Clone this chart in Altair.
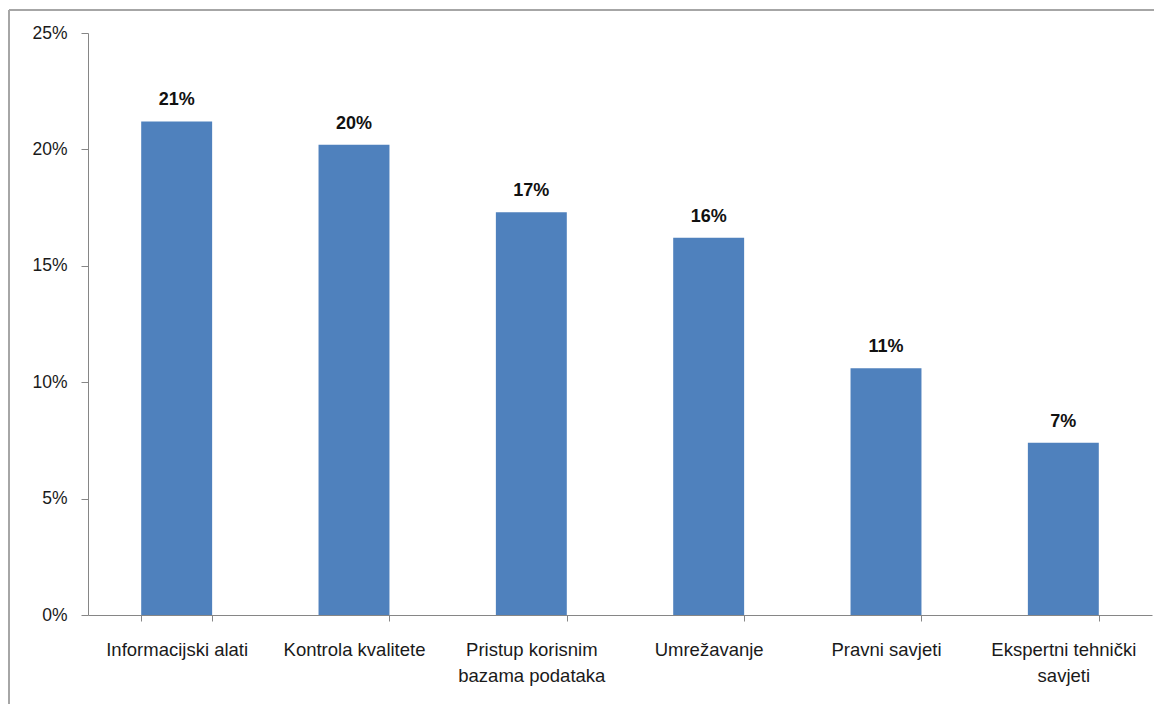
import altair as alt
import pandas as pd

categories = ["Informacijski alati", "Kontrola kvalitete", "Pristup korisnim bazama podataka",
              "Umrežavanje", "Pravni savjeti", "Ekspertni tehnički savjeti"]
values = [0.212, 0.202, 0.173, 0.162, 0.106, 0.074]
value_labels = ["21%", "20%", "17%", "16%", "11%", "7%"]
wrapped = {
    "Pristup korisnim bazama podataka": ["Pristup korisnim", "bazama podataka"],
    "Ekspertni tehnički savjeti": ["Ekspertni tehnički", "savjeti"],
}

df = pd.DataFrame({"cat": categories, "val": values, "lab": value_labels})

label_expr = " : ".join(
    [f"datum.label == '{k}' ? {v!r}" for k, v in wrapped.items()] + ["datum.label"]
)

FONT = "Liberation Sans"

x = alt.X("cat:N", sort=categories, title=None,
          scale=alt.Scale(paddingInner=0.6, paddingOuter=0.3),
          axis=alt.Axis(labelAngle=0, tickBand="extent", tickSize=6, domainColor="#868686",
                        tickColor="#868686", labelFont=FONT, labelFontSize=18.5,
                        labelColor="#1a1a1a", labelPadding=19, labelLineHeight=26,
                        labelExpr=label_expr, labelBaseline="top", grid=False))
y = alt.Y("val:Q", title=None,
          scale=alt.Scale(domain=[0, 0.25]),
          axis=alt.Axis(format=".0%", values=[0, 0.05, 0.1, 0.15, 0.2, 0.25], tickSize=7,
                        domainColor="#868686", tickColor="#868686", labelFont=FONT,
                        labelFontSize=17.5, labelColor="#1a1a1a", labelPadding=14, grid=False))

bars = alt.Chart(df).mark_bar(color="#4F81BD").encode(x=x, y=y)
texts = alt.Chart(df).mark_text(font=FONT, fontSize=18, fontWeight="bold", baseline="bottom",
                                dy=-12, color="#111111").encode(x=x, y=y, text="lab:N")

frame_top = alt.Chart(df).mark_rule(color="#a6a6a6", strokeWidth=2).encode(
    x=alt.value(-79), x2=alt.value(1100), y=alt.value(-23))
frame_left = alt.Chart(df).mark_rule(color="#a6a6a6", strokeWidth=2).encode(
    x=alt.value(-79), y=alt.value(-23), y2=alt.value(700))

chart = alt.layer(frame_top, frame_left, bars, texts).properties(
    width=1064, height=582,
    autosize=alt.AutoSizeParams(type="none"),
    padding={"left": 80, "top": 25, "right": 2, "bottom": 89},
).configure_view(stroke=None)

chart.save("out.html", embed_options={"renderer": "svg", "actions": False})
